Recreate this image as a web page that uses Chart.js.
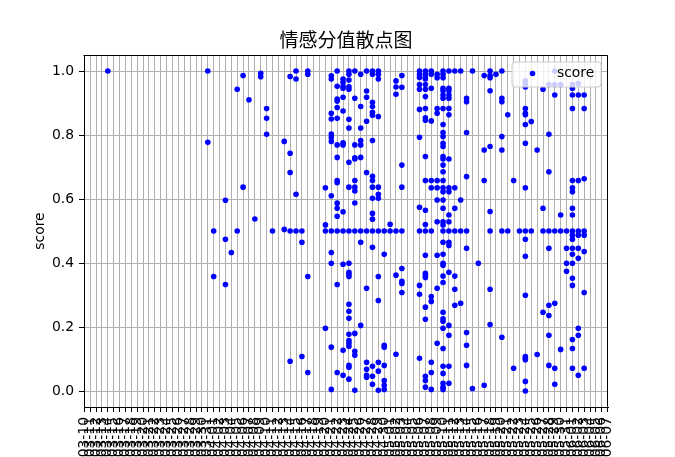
<!DOCTYPE html>
<html><head><meta charset="utf-8">
<script src="https://cdn.jsdelivr.net/npm/chart.js@4"></script>
<style>html,body{margin:0;padding:0;background:#fff;overflow:hidden}canvas{display:block}</style>
</head><body>
<canvas id="c" width="675" height="457"></canvas>
<script>
const titleText = '情感分值散点图';
const seriesName = 'score';
const yLabel = 'score';

const tickLabels = [
'2023-03-10','2023-03-11','2023-03-12','2023-03-13','2023-03-14','2023-03-15','2023-03-16','2023-03-17','2023-03-18','2023-03-19',
'2023-03-20','2023-03-21','2023-03-22','2023-03-23','2023-03-24','2023-03-25','2023-03-26','2023-03-27','2023-03-28','2023-03-29',
'2023-03-30','2023-03-31',
'2023-04-01','2023-04-02','2023-04-03','2023-04-04','2023-04-05','2023-04-06','2023-04-07','2023-04-08','2023-04-09','2023-04-10',
'2023-04-11','2023-04-12','2023-04-13','2023-04-14','2023-04-15','2023-04-16','2023-04-17','2023-04-18','2023-04-19','2023-04-20',
'2023-04-21','2023-04-22','2023-04-23','2023-04-24','2023-04-25','2023-04-26','2023-04-27','2023-04-28','2023-04-29','2023-04-30',
'2023-05-01','2023-05-02','2023-05-03','2023-05-04','2023-05-05','2023-05-06','2023-05-07','2023-05-08','2023-05-09','2023-05-10',
'2023-05-11','2023-05-12','2023-05-13','2023-05-14','2023-05-15','2023-05-16','2023-05-17','2023-05-18','2023-05-19','2023-05-20',
'2023-05-21','2023-05-22','2023-05-23','2023-05-24','2023-05-25','2023-05-26','2023-05-27','2023-05-28','2023-05-29','2023-05-30',
'2023-05-31',
'2023-06-01','2023-06-02','2023-06-03','2023-06-04','2023-06-05','2023-06-06','2023-06-07'
];

const yTickValues = [0.0, 0.2, 0.4, 0.6, 0.8, 1.0];

const dates = [
'2023-03-14','2023-03-31','2023-04-01','2023-04-03','2023-04-04','2023-04-05','2023-04-06','2023-04-07','2023-04-08','2023-04-09',
'2023-04-10','2023-04-11','2023-04-13','2023-04-14','2023-04-15','2023-04-16','2023-04-17','2023-04-20','2023-04-21','2023-04-22',
'2023-04-23','2023-04-24','2023-04-25','2023-04-26','2023-04-27','2023-04-28','2023-04-29','2023-04-30','2023-05-01','2023-05-02',
'2023-05-03','2023-05-06','2023-05-07','2023-05-08','2023-05-09','2023-05-10','2023-05-11','2023-05-12','2023-05-13','2023-05-14',
'2023-05-15','2023-05-16','2023-05-17','2023-05-18','2023-05-19','2023-05-20','2023-05-21','2023-05-22','2023-05-23','2023-05-24',
'2023-05-25','2023-05-26','2023-05-27','2023-05-28','2023-05-29','2023-05-30','2023-05-31','2023-06-01','2023-06-02','2023-06-03'
];

const scores = [
[1.0],
[1.0, 0.777],
[0.5, 0.358],
[0.596, 0.474, 0.333],
[0.433],
[0.943, 0.5],
[0.986, 0.637],
[0.91],
[0.5375],
[0.993, 0.982],
[0.883, 0.852, 0.802],
[0.5],
[0.78, 0.505],
[0.983, 0.743, 0.683, 0.5, 0.093],
[1.0, 0.975, 0.615, 0.5],
[0.5, 0.465, 0.108],
[1.0, 0.99, 0.358, 0.058],
[0.635, 0.519, 0.5, 0.196],
[0.985, 0.975, 0.868, 0.85, 0.803, 0.792, 0.78, 0.61, 0.5, 0.433, 0.399, 0.137, 0.005],
[1.0, 0.952, 0.9125, 0.906, 0.886, 0.852, 0.769, 0.73, 0.658, 0.651, 0.587, 0.571, 0.546, 0.5, 0.333, 0.058],
[0.975, 0.965, 0.952, 0.946, 0.918, 0.875, 0.776, 0.769, 0.56, 0.5, 0.396, 0.127, 0.049],
[1.0, 0.99, 0.972, 0.951, 0.943, 0.849, 0.822, 0.715, 0.637, 0.5, 0.399, 0.371, 0.365, 0.358, 0.271, 0.249, 0.227, 0.177, 0.158, 0.149, 0.14, 0.08, 0.074, 0.037],
[1.0, 0.915, 0.769, 0.729, 0.725, 0.658, 0.637, 0.625, 0.5875, 0.5, 0.18, 0.124, 0.112, 0.002],
[0.99, 0.889, 0.822, 0.783, 0.769, 0.73, 0.5, 0.465, 0.205],
[1.0, 0.9375, 0.918, 0.843, 0.683, 0.5, 0.321, 0.09, 0.068, 0.049, 0.043],
[1.0, 0.99, 0.902, 0.889, 0.871, 0.862, 0.783, 0.671, 0.658, 0.637, 0.602, 0.555, 0.537, 0.5, 0.449, 0.077, 0.046, 0.021],
[1.0, 0.99, 0.975, 0.858, 0.637, 0.615, 0.602, 0.5, 0.358, 0.283, 0.09, 0.062, 0.002],
[0.5, 0.427, 0.143, 0.137, 0.08, 0.033, 0.018, 0.005],
[0.521, 0.5],
[0.969, 0.95, 0.927, 0.5, 0.362, 0.115],
[0.986, 0.949, 0.706, 0.637, 0.5, 0.383, 0.343, 0.336, 0.308],
[1.0, 0.99, 0.98, 0.958, 0.943, 0.88, 0.793, 0.574, 0.5, 0.33, 0.302, 0.102],
[1.0, 0.99, 0.98, 0.975, 0.958, 0.943, 0.92, 0.883, 0.854, 0.846, 0.733, 0.658, 0.565, 0.52, 0.5, 0.424, 0.368, 0.362, 0.355, 0.262, 0.224, 0.046, 0.033, 0.012],
[1.0, 0.99, 0.946, 0.844, 0.658, 0.635, 0.5, 0.295, 0.28, 0.09, 0.058, 0.005],
[0.99, 0.979, 0.883, 0.868, 0.658, 0.635, 0.597, 0.529, 0.424, 0.321, 0.149],
[1.0, 0.99, 0.979, 0.946, 0.938, 0.925, 0.915, 0.883, 0.833, 0.808, 0.795, 0.774, 0.764, 0.733, 0.725, 0.706, 0.685, 0.658, 0.635, 0.623, 0.597, 0.571, 0.529, 0.519, 0.5, 0.465, 0.427, 0.399, 0.393, 0.359, 0.339, 0.246, 0.226, 0.218, 0.196, 0.133, 0.077, 0.055, 0.024, 0.012, 0.005],
[1.0, 0.946, 0.938, 0.925, 0.915, 0.883, 0.863, 0.725, 0.635, 0.623, 0.55, 0.529, 0.5, 0.465, 0.455, 0.371, 0.205, 0.174, 0.077, 0.024],
[1.0, 0.635, 0.571, 0.5, 0.359, 0.318, 0.268],
[1.0, 0.597, 0.5, 0.274],
[0.915, 0.904, 0.808, 0.67, 0.5, 0.446, 0.183, 0.143, 0.08],
[1.0, 0.008],
[0.399],
[0.986, 0.753, 0.658, 0.018],
[1.0, 0.986, 0.979, 0.938, 0.764, 0.561, 0.5, 0.318, 0.208],
[0.99],
[1.0, 0.915, 0.904, 0.795, 0.753, 0.5, 0.168],
[0.863, 0.5],
[0.658, 0.071],
[0.5],
[0.969, 0.958, 0.95, 0.883, 0.868, 0.863, 0.833, 0.774, 0.635, 0.5, 0.474, 0.421, 0.299, 0.108, 0.102, 0.098, 0.03, 0.0],
[0.842, 0.5],
[0.753, 0.114],
[0.943, 0.571, 0.5, 0.246],
[0.958, 0.802, 0.685, 0.5, 0.446, 0.268, 0.236, 0.174, 0.08],
[1.0, 0.958, 0.925, 0.5, 0.274, 0.071, 0.021],
[0.958, 0.55, 0.5, 0.13],
[0.5, 0.446, 0.399, 0.374],
[0.958, 0.946, 0.925, 0.883, 0.658, 0.635, 0.623, 0.571, 0.55, 0.5, 0.487, 0.474, 0.446, 0.427, 0.399, 0.352, 0.33, 0.161, 0.133, 0.071],
[0.961, 0.925, 0.658, 0.5, 0.487, 0.446, 0.415, 0.196, 0.174, 0.049],
[0.925, 0.883, 0.663, 0.5, 0.487, 0.436, 0.308, 0.071]
];

// build points from the arrays (x = position of the date among the tick labels)
const points = [];
dates.forEach((d, k) => {
  const xi = tickLabels.indexOf(d);
  scores[k].forEach(v => points.push({x: xi, y: v}));
});
const firstIdx = tickLabels.indexOf(dates[0]);
const lastIdx = tickLabels.indexOf(dates[dates.length - 1]);
const span = lastIdx - firstIdx;

const FONT = "'DejaVu Sans', 'Noto Sans CJK SC', sans-serif";
const TICKFS = 13.9;
Chart.defaults.font.family = FONT;
Chart.defaults.color = '#000';

const framePlugin = {
  id: 'frame',
  afterDatasetsDraw(chart) {
    const {ctx, chartArea: a} = chart;
    ctx.save();
    ctx.strokeStyle = '#000';
    ctx.lineWidth = 1;
    ctx.beginPath();
    const l = Math.round(a.left) - 0.5, r = Math.round(a.right) - 0.5, t = Math.round(a.top) + 0.5, b = Math.round(a.bottom) - 0.5;
    ctx.moveTo(l, t); ctx.lineTo(r, t); ctx.lineTo(r, b);
    ctx.stroke();
    // legend box (inside the axes, upper right)
    const bw = 89, bh = 25;
    const bx = a.right - 7 - bw, by = a.top + 7;
    const rad = 3;
    ctx.beginPath();
    ctx.moveTo(bx + rad, by);
    ctx.lineTo(bx + bw - rad, by); ctx.quadraticCurveTo(bx + bw, by, bx + bw, by + rad);
    ctx.lineTo(bx + bw, by + bh - rad); ctx.quadraticCurveTo(bx + bw, by + bh, bx + bw - rad, by + bh);
    ctx.lineTo(bx + rad, by + bh); ctx.quadraticCurveTo(bx, by + bh, bx, by + bh - rad);
    ctx.lineTo(bx, by + rad); ctx.quadraticCurveTo(bx, by, bx + rad, by);
    ctx.closePath();
    ctx.fillStyle = 'rgba(255,255,255,0.8)';
    ctx.fill();
    ctx.strokeStyle = '#cccccc';
    ctx.lineWidth = 1;
    ctx.stroke();
    ctx.fillStyle = '#0000ff';
    ctx.beginPath();
    ctx.arc(bx + 20.5, by + 11.5, 2.8, 0, Math.PI * 2);
    ctx.fill();
    ctx.fillStyle = '#000';
    ctx.font = TICKFS + 'px ' + FONT;
    ctx.textBaseline = 'middle';
    ctx.textAlign = 'left';
    ctx.fillText(seriesName, bx + 45, by + 11.5);
    ctx.restore();
  }
};

new Chart(document.getElementById('c'), {
  type: 'scatter',
  data: {
    datasets: [{
      label: seriesName,
      data: points,
      pointRadius: 2.8,
      pointHoverRadius: 2.8,
      pointBackgroundColor: '#0000ff',
      pointBorderWidth: 0,
      showLine: false
    }]
  },
  options: {
    responsive: false,
    animation: false,
    devicePixelRatio: 1,
    layout: { padding: { left: 28, right: 67, top: 0, bottom: 0 } },
    plugins: {
      legend: { display: false },
      tooltip: { enabled: false },
      title: {
        display: true, text: titleText, color: '#000', fullSize: false,
        font: { size: 19, weight: 'normal', family: "'Noto Sans CJK SC', 'DejaVu Sans', sans-serif", lineHeight: 1.2 },
        padding: { top: 28.6, bottom: 3.6 }
      }
    },
    scales: {
      x: {
        type: 'linear',
        min: firstIdx - 0.05 * span,
        max: lastIdx + 0.05 * span,
        afterFit(s) { s.height = 50; },
        ticks: {
          stepSize: 1, includeBounds: false, autoSkip: false,
          minRotation: 90, maxRotation: 90,
          color: '#000', font: { size: TICKFS }, padding: 5,
          callback: (v) => tickLabels[v]
        },
        grid: { color: '#b0b0b0', lineWidth: 1, tickLength: 5, tickColor: '#000', tickWidth: 1 },
        border: { color: '#000', width: 1 }
      },
      y: {
        type: 'linear',
        min: -0.05, max: 1.05,
        afterFit(s) { s.width = 56; },
        afterBuildTicks(s) { s.ticks = yTickValues.map(v => ({value: v})); },
        ticks: {
          color: '#000', font: { size: TICKFS }, padding: 5,
          callback: (v) => Number(v).toFixed(1)
        },
        grid: { color: '#b0b0b0', lineWidth: 1, tickLength: 5, tickColor: '#000', tickWidth: 1 },
        border: { color: '#000', width: 1 },
        title: { display: true, text: yLabel, color: '#000', font: { size: TICKFS }, padding: { top: 4, bottom: 0 } }
      }
    }
  },
  plugins: [framePlugin]
});
</script>
</body></html>
